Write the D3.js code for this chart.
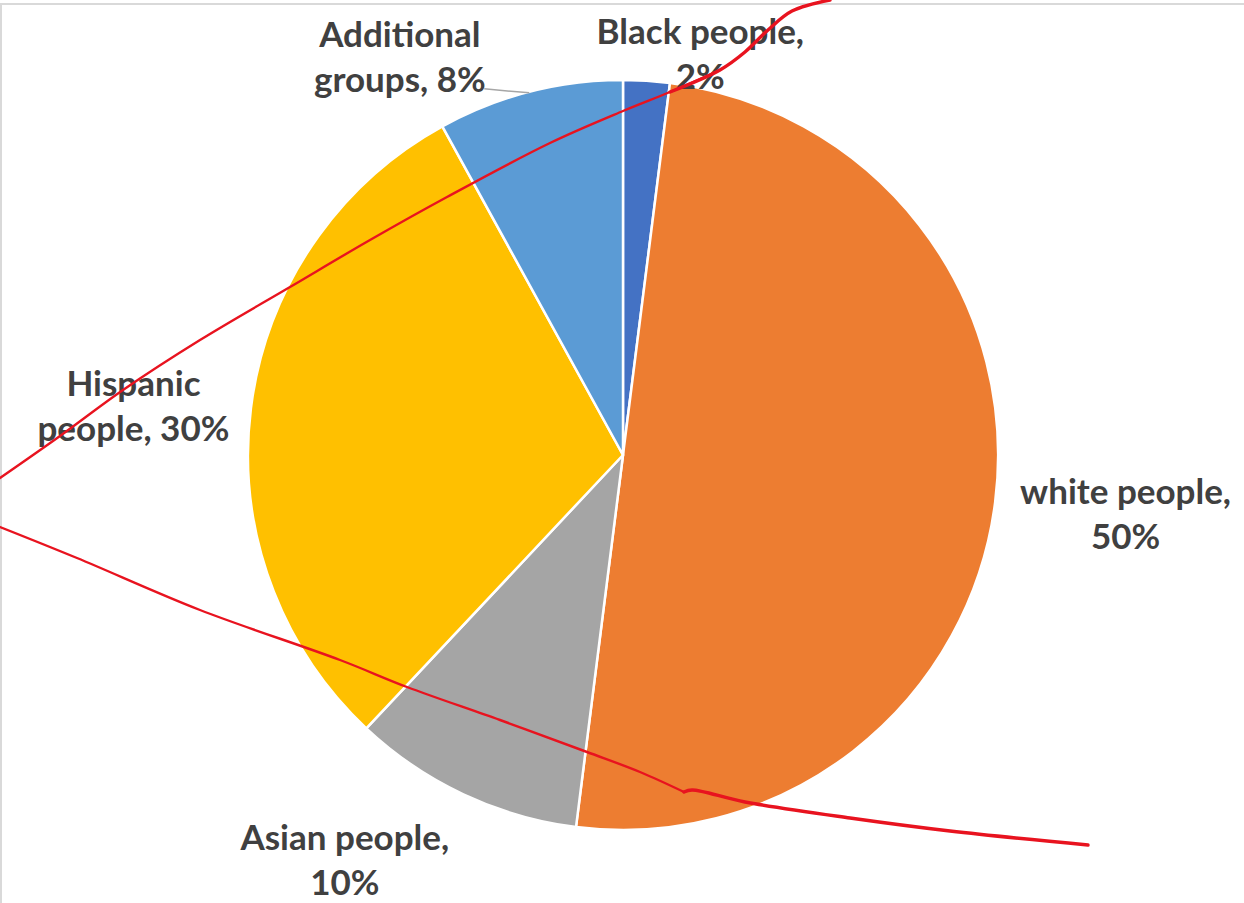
<!DOCTYPE html>
<html>
<head>
<meta charset="utf-8">
<script src="https://cdn.jsdelivr.net/npm/d3@7"></script>
<style>
  body { margin: 0; background: #fff; }
  svg { display: block; }
  .lbl { font-family: Lato, "Open Sans", sans-serif; font-weight: bold; fill: #404040; }
</style>
</head>
<body>
<div id="container"></div>
<script>
/* DATA */
const groups = ["Black people", "white people", "Asian people", "Hispanic people", "Additional groups"]
const shares = [2, 50, 10, 30, 8]
const colors = ["#4472C4", "#ED7D31", "#A5A5A5", "#FFC000", "#5B9BD5"]

// label lines as Excel wrapped them
const labelLines = [
  ["Black people,", "2%"],
  ["white people,", "50%"],
  ["Asian people,", "10%"],
  ["Hispanic", "people, 30%"],
  ["Additional", "groups, 8%"]
]

// hand drawn red marks over the chart (annotation, not data)
const redUpper = [[0, 478], [60, 436], [123, 390], [200, 340], [290, 287], [370, 240], [447, 197],
  [550, 143], [623, 111], [670, 92], [720, 70]]
const redUpperTail = [[670, 92], [720, 70], [745, 52], [768, 30], [792, 11], [830, 0]]
const redLower = [[0, 527], [77, 558], [200, 610], [340, 660], [407, 687], [500, 720], [587, 752],
  [640, 772], [684, 792]]
const redLowerTail = [[684, 792], [692, 790], [745, 802], [850, 818], [950, 831], [1088, 845]]

/* CONSTANTS */
const width = 1244, height = 903
const cx = 623, cy = 455, radius = 375

const svg = d3.select("#container")
  .append("svg")
  .attr("width", width)
  .attr("height", height)

// chart frame edge
svg.append("rect")
  .attr("x", 1).attr("y", 4)
  .attr("width", width + 10).attr("height", height + 10)
  .attr("fill", "none")
  .attr("stroke", "#d9d9d9")
  .attr("stroke-width", 2)

const pie = d3.pie().sort(null).value(d => d)
const arcs = pie(shares)

const arc = d3.arc().innerRadius(0).outerRadius(radius)

const g = svg.append("g").attr("transform", `translate(${cx},${cy})`)

g.selectAll("path.slice")
  .data(arcs)
  .join("path")
  .attr("class", "slice")
  .attr("d", arc)
  .attr("fill", (d, i) => colors[i])
  .attr("stroke", "#fff")
  .attr("stroke-width", 2.5)
  .attr("stroke-linejoin", "round")

// label placement: anchor on a ray from the slice, then nudged like Excel's best fit
const labelArc = d3.arc().innerRadius(radius + 60).outerRadius(radius + 60)
const nudge = [[50, 23], [71, -6], [-93, 1], [-58, -4], [-115, 13]]

const labels = svg.append("g")
  .attr("transform", `translate(${cx},${cy})`)

arcs.forEach((d, i) => {
  const c = labelArc.centroid(d)
  const t = labels.append("text")
    .attr("class", "lbl")
    .attr("text-anchor", "middle")
    .attr("font-size", 35)
    .attr("x", c[0] + nudge[i][0])
    .attr("y", c[1] + nudge[i][1])
  labelLines[i].forEach((line, k) => {
    t.append("tspan")
      .attr("x", c[0] + nudge[i][0])
      .attr("dy", k === 0 ? 0 : 45)
      .text(line)
  })
})

// leader line for the small "Additional groups" label
const addArc = arcs[4]
const edge = d3.arc().innerRadius(radius + 2).outerRadius(radius + 2).centroid(addArc)
svg.append("line")
  .attr("x1", cx + edge[0] - 45).attr("y1", cy + edge[1] - 1)
  .attr("x2", cx + edge[0]).attr("y2", cy + edge[1] + 3)
  .attr("stroke", "#a6a6a6")
  .attr("stroke-width", 1.5)

// red pen strokes
const line = d3.line().curve(d3.curveCatmullRom)
const strokes = [[redUpper, 2.4], [redUpperTail, 3.4], [redLower, 2.4], [redLowerTail, 3.4]]
strokes.forEach(([pts, w]) => {
  svg.append("path")
    .attr("d", line(pts))
    .attr("fill", "none")
    .attr("stroke", "#E8131F")
    .attr("stroke-width", w)
    .attr("stroke-linecap", "round")
})
</script>
</body>
</html>
